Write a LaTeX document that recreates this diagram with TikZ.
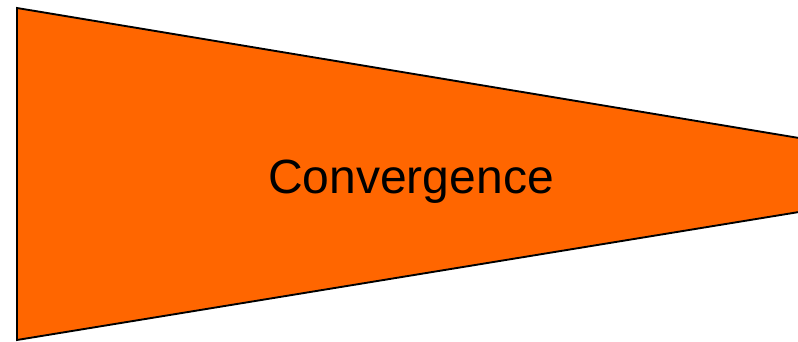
\documentclass[tikz,border=0pt]{standalone}
\usepackage{fontspec}
\setmainfont{Liberation Sans}
\usepackage{tikz}
\usetikzlibrary{positioning}
\definecolor{convOrange}{RGB}{255,102,0}

\begin{document}
\begin{tikzpicture}[x=0.03cm,y=-0.03cm,
          funnel/.style={fill=convOrange,draw=black,line width=1.6pt,line join=miter},
          lbl/.style={font=\fontsize{41}{45}\selectfont,text=black,inner sep=0pt},
        ]
        \useasboundingbox (0,0) rectangle (798,342);
        % funnel shape, open at the right border
        \fill[convOrange] (17,8) -- (799,138) -- (799,212) -- (17,340) -- cycle;
        \draw[funnel,fill=none] (799,138) -- (17,8) -- (17,340) -- (799,212);
        \node[lbl] (conv) at (411,182) {Convergence};
      \end{tikzpicture}
\end{document}
